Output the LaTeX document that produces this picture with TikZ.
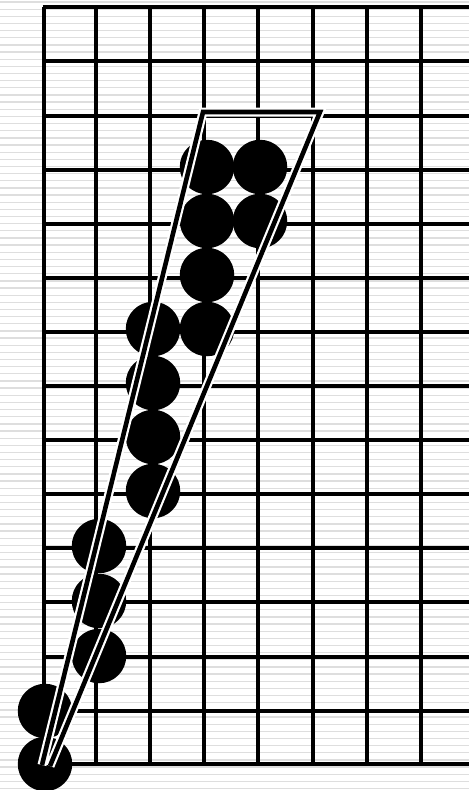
\documentclass[tikz,border=0pt]{standalone}
\begin{document}
\begin{tikzpicture}[x=1pt,y=-1pt,
  gridline/.style={line width=3.1pt,black},
  stone/.style={circle,fill=black,minimum size=54.5pt,inner sep=0pt},
  wedgehalo/.style={white,line width=9pt,miter limit=20},
  wedgeline/.style={black,line width=4.6pt,miter limit=20}]
\useasboundingbox (0,0) rectangle (469,790);
\fill[white] (0,0) rectangle (469,790);
% striped background
\foreach \s in {0,...,110}{
  \draw[black!13,line width=1.3pt] (0,{2+\s*7.15}) -- (469,{2+\s*7.15});
}
% grid
\def\xs{{44,96,150,204,258,313,367,421}}
\def\ys{{7,61,116,170,224,278,332,386,440,494,548,602,657,711,764}}
\foreach \j in {0,...,14}{
  \pgfmathsetmacro\yy{\ys[\j]}
  \draw[gridline] (42.5,\yy) -- (469,\yy);
}
\foreach \i in {0,...,7}{
  \pgfmathsetmacro\xx{\xs[\i]}
  \draw[gridline] (\xx,7) -- (\xx,764);
}
% stones
\foreach \xx/\yy [count=\n] in {207/167,260/167,207/221,260/221,207/275,153/329,207/329,153/383,153/437,153/491,99/546,99/601,99/656,45/711,45/764}{
  \node[stone] (s\n) at (\xx,\yy) {};
}
% wedge
\coordinate (bl) at (42,765);
\coordinate (tl) at (203,112);
\coordinate (tr) at (320,112);
\coordinate (br) at (50,766);
\draw[wedgehalo] (bl) -- (tl) -- (tr) -- (br);
\draw[wedgeline] (bl) -- (tl) -- (tr) -- (br);
\end{tikzpicture}
\end{document}
